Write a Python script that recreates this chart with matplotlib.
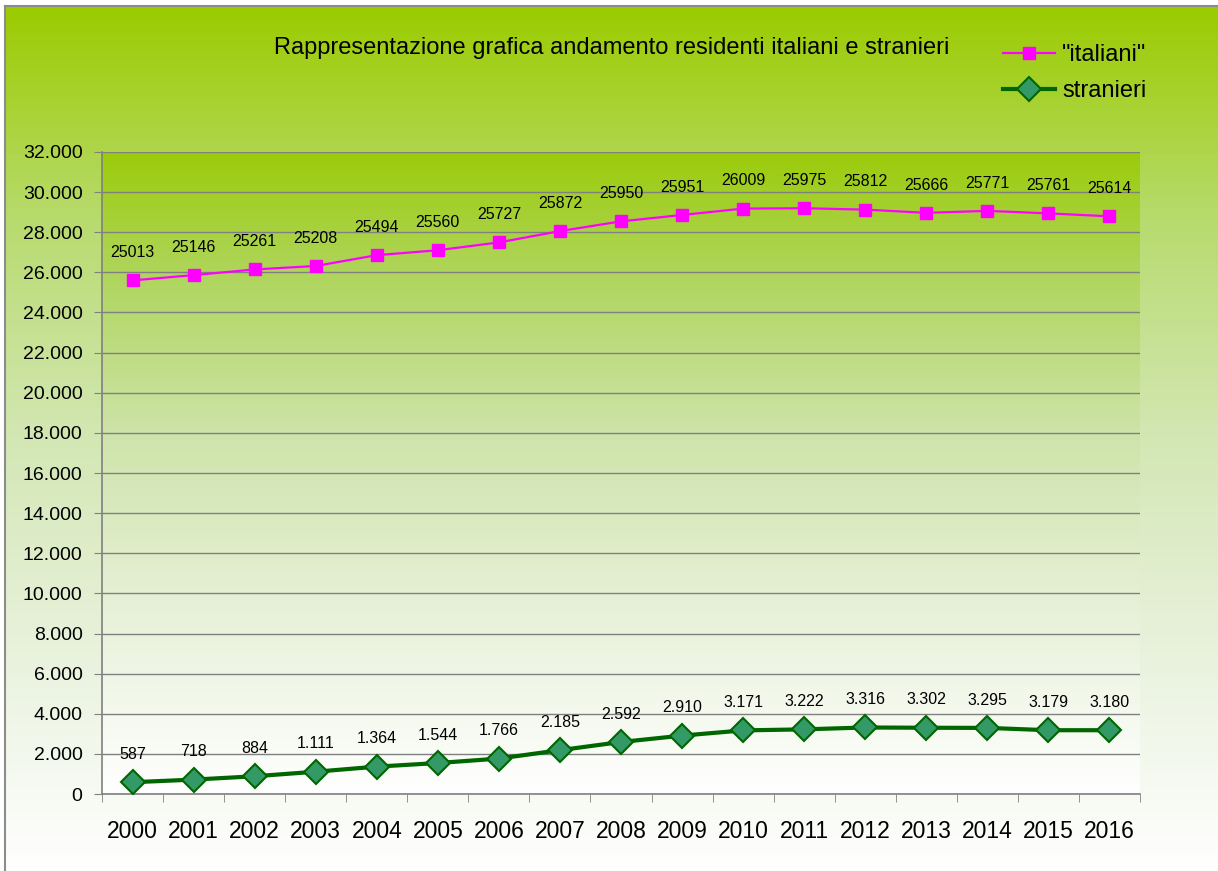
import numpy as np
import matplotlib
matplotlib.use('Agg')
import matplotlib.pyplot as plt
from matplotlib.colors import LinearSegmentedColormap
from matplotlib.lines import Line2D

anni = [str(a) for a in range(2000, 2017)]
italiani = [25013, 25146, 25261, 25208, 25494, 25560, 25727, 25872, 25950,
            25951, 26009, 25975, 25812, 25666, 25771, 25761, 25614]
stranieri = [587, 718, 884, 1111, 1364, 1544, 1766, 2185, 2592,
             2910, 3171, 3222, 3316, 3302, 3295, 3179, 3180]

plt.rcParams['font.family'] = ['Liberation Sans', 'DejaVu Sans']

fig = plt.figure(figsize=(12.18, 8.71), dpi=100)

# sfondo sfumato della figura
bg = fig.add_axes([5 / 1218, 0, 1 - 5 / 1218, 1 - 6 / 871], zorder=-10)
cm_bg = LinearSegmentedColormap.from_list('bg', [
    (0.0, '#9bcb00'), (0.25, '#b8db6f'), (0.5, '#d3e7b4'),
    (0.75, '#e9f2dd'), (1.0, '#ffffff')])
bg.imshow(np.linspace(0, 1, 256).reshape(-1, 1), aspect='auto', cmap=cm_bg,
          extent=[0, 1, 0, 1], origin='upper')
bg.set_xticks([])
bg.set_yticks([])
for s in bg.spines.values():
    s.set_color('#8c8c8c')
    s.set_linewidth(1.5)
bg.spines['right'].set_visible(False)
bg.spines['bottom'].set_visible(False)

ax = fig.add_axes([102 / 1218, 77 / 871, 1038 / 1218, 642 / 871])
cm_plot = LinearSegmentedColormap.from_list('pl', [
    (0.0, '#9bcb0a'), (0.2, '#b0d660'), (0.45, '#cfe4ac'),
    (0.7, '#e6f0d6'), (1.0, '#ffffff')])
ax.imshow(np.linspace(0, 1, 256).reshape(-1, 1), aspect='auto', cmap=cm_plot,
          extent=[0, 1, 0, 1], origin='upper', transform=ax.transAxes, zorder=0)

x = np.arange(len(anni))
totale = np.array(italiani) + np.array(stranieri)

ax.plot(x, totale, color='#ff00ff', lw=1.6, marker='s', ms=9,
        mfc='#ff00ff', mec='#ff00ff', zorder=3)
ax.plot(x, stranieri, color='#006600', lw=3, marker='D', ms=12,
        mfc='#339966', mec='#006600', mew=1.5, zorder=3)

for xi, yi, v in zip(x, totale, italiani):
    ax.annotate(str(v), (xi, yi), xytext=(0, 20), textcoords='offset points',
                ha='center', va='center', fontsize=11.5)
for xi, v in zip(x, stranieri):
    ax.annotate(f'{v:,}'.replace(',', '.'), (xi, v), xytext=(0, 20),
                textcoords='offset points', ha='center', va='center', fontsize=11.5)

ax.set_xlim(-0.5, len(anni) - 0.5)
ax.set_ylim(0, 32000)
ax.set_yticks(np.arange(0, 32001, 2000))
ax.set_yticklabels([f'{v:,}'.replace(',', '.') for v in range(0, 32001, 2000)],
                   fontsize=14)
ax.yaxis.grid(True, color='#808080', lw=1)
ax.set_axisbelow(False)
for gl in ax.get_ygridlines():
    gl.set_zorder(1)

ax.set_xticks(x)
ax.set_xticklabels(anni, fontsize=16.5)
ax.set_xticks(np.arange(-0.5, len(anni)), minor=True)
ax.tick_params(axis='x', which='major', length=0, pad=19)
ax.tick_params(axis='x', which='minor', length=6, color='#808080')
ax.tick_params(axis='y', length=6, color='#808080', pad=8)

for side in ['top', 'right']:
    ax.spines[side].set_visible(False)
for side in ['left', 'bottom']:
    ax.spines[side].set_color('#808080')
    ax.spines[side].set_linewidth(1.2)

fig.text(0.502, 0.945, 'Rappresentazione grafica andamento residenti italiani e stranieri',
         ha='center', va='center', fontsize=17)

handles = [
    Line2D([], [], color='#ff00ff', lw=1.6, marker='s', ms=9, mfc='#ff00ff', mec='#ff00ff'),
    Line2D([], [], color='#006600', lw=3, marker='D', ms=12, mfc='#339966',
           mec='#006600', mew=1.5),
]
fig.legend(handles, ['"italiani"', 'stranieri'],
           loc='upper left', bbox_to_anchor=(982 / 1218, 1 - 23 / 871),
           frameon=False, fontsize=17, handlelength=2.2, handletextpad=0.3,
           labelspacing=0.6)

fig.savefig('out.png', dpi=100)
